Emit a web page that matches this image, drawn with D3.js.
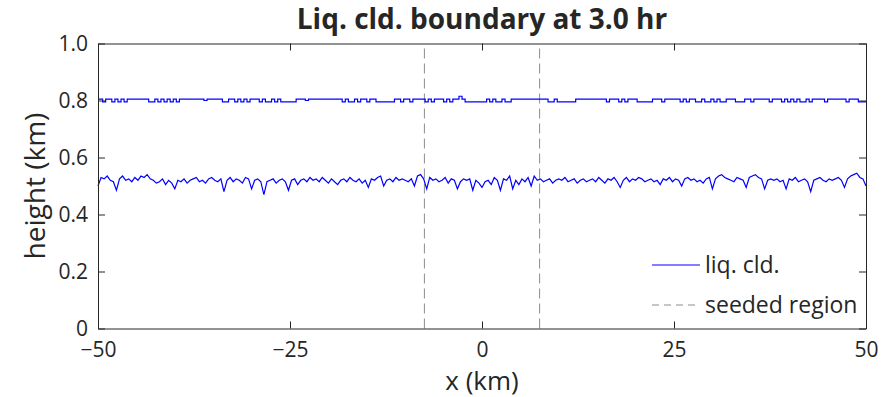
<!DOCTYPE html>
<html>
<head>
<meta charset="utf-8">
<script src="https://cdn.jsdelivr.net/npm/d3@7"></script>
<style>
  body { margin: 0; background: #fff; }
  text { font-family: "Open Sans", sans-serif; fill: #262626; }
</style>
</head>
<body>
<div id="chart"></div>
<script>
// x grid of the model output (km), one value every 0.4 km
var xStart = -50, xStep = 0.4

// cloud top (km)
var cloudTop = [
  .805,.805,.795,.805,.805,.795,.805,.795,.805,.795,
  .805,.805,.805,.805,.805,.805,.805,.795,.795,.805,
  .795,.805,.795,.805,.795,.805,.795,.805,.805,.805,
  .805,.805,.805,.805,.805,.800,.805,.805,.805,.805,
  .805,.795,.795,.805,.805,.795,.805,.795,.805,.795,
  .805,.805,.805,.795,.805,.795,.795,.805,.795,.805,
  .795,.795,.795,.795,.795,.805,.805,.805,.800,.805,
  .805,.805,.805,.805,.805,.805,.805,.805,.805,.805,
  .795,.805,.795,.795,.805,.795,.805,.805,.795,.805,
  .805,.795,.795,.795,.795,.795,.795,.805,.805,.795,
  .805,.805,.795,.805,.805,.805,.805,.795,.805,.795,
  .805,.805,.805,.795,.805,.795,.805,.805,.815,.805,
  .795,.795,.795,.795,.795,.795,.795,.805,.795,.805,
  .795,.795,.805,.795,.795,.805,.805,.805,.805,.805,
  .805,.805,.805,.805,.805,.805,.805,.795,.795,.805,
  .795,.795,.795,.795,.795,.795,.805,.805,.805,.805,
  .805,.805,.805,.805,.805,.805,.795,.805,.805,.805,
  .795,.805,.795,.805,.805,.805,.795,.795,.795,.795,
  .795,.805,.805,.805,.795,.805,.805,.805,.805,.805,
  .795,.805,.795,.805,.805,.795,.795,.805,.795,.795,
  .805,.795,.805,.795,.795,.805,.805,.805,.795,.795,
  .795,.805,.805,.795,.805,.805,.805,.805,.805,.795,
  .805,.805,.805,.795,.805,.795,.805,.795,.805,.795,
  .795,.805,.795,.805,.805,.805,.805,.795,.805,.805,
  .805,.805,.805,.805,.795,.805,.805,.805,.795,.795,
  .795
]

// cloud base (km)
var cloudBase = [
  .500,.530,.525,.535,.520,.515,.485,.525,.535,.520,
  .525,.515,.530,.520,.535,.530,.540,.525,.520,.510,
  .515,.525,.505,.520,.510,.490,.520,.515,.525,.510,
  .520,.525,.530,.515,.520,.510,.525,.530,.520,.515,
  .525,.480,.520,.530,.515,.525,.520,.510,.530,.525,
  .490,.520,.525,.515,.470,.515,.520,.525,.510,.520,
  .525,.515,.485,.520,.525,.505,.520,.525,.515,.530,
  .520,.525,.515,.530,.520,.510,.525,.515,.505,.520,
  .525,.515,.530,.520,.515,.525,.510,.520,.495,.525,
  .520,.530,.535,.500,.520,.525,.515,.530,.520,.525,
  .520,.515,.525,.500,.535,.540,.525,.490,.530,.520,
  .525,.515,.520,.530,.510,.525,.520,.490,.515,.525,
  .520,.525,.485,.520,.510,.495,.515,.520,.505,.530,
  .520,.485,.525,.520,.535,.490,.520,.505,.525,.515,
  .530,.500,.535,.520,.525,.515,.520,.525,.510,.520,
  .525,.520,.530,.515,.520,.525,.510,.520,.525,.515,
  .520,.525,.515,.530,.520,.510,.525,.520,.530,.515,
  .495,.520,.530,.515,.525,.520,.530,.525,.515,.520,
  .525,.515,.520,.505,.525,.520,.530,.515,.525,.520,
  .500,.525,.530,.520,.525,.515,.520,.510,.525,.530,
  .490,.525,.535,.540,.530,.525,.520,.515,.530,.525,
  .520,.495,.530,.535,.540,.530,.525,.490,.520,.525,
  .520,.525,.515,.520,.490,.525,.520,.530,.515,.520,
  .525,.515,.480,.520,.525,.530,.520,.515,.525,.520,
  .525,.530,.520,.495,.525,.535,.540,.545,.530,.525,
  .500
]

var seeded = [-7.5, 7.5]
var xTicks = [-50, -25, 0, 25, 50]
var yTicks = [0, 0.2, 0.4, 0.6, 0.8, 1.0]

var width = 893, height = 397
var margin = {top: 43.5, right: 27, bottom: 68.5, left: 98}

var svg = d3.select("#chart")
  .append("svg")
  .attr("width", width)
  .attr("height", height)

var xScale = d3.scaleLinear()
  .domain([-50, 50])
  .range([margin.left, width - margin.right])

var yScale = d3.scaleLinear()
  .domain([0, 1])
  .range([height - margin.bottom, margin.top])

// seeded region boundaries
svg.selectAll("seed")
  .data(seeded)
  .enter()
  .append("line")
  .attr("x1", d => xScale(d))
  .attr("x2", d => xScale(d))
  .attr("y1", yScale(0))
  .attr("y2", yScale(1))
  .style("stroke", "#8c8c8c")
  .style("stroke-width", 1)
  .style("stroke-dasharray", "10,5")

var topLine = d3.line()
  .x((d, i) => xScale(xStart + i * xStep))
  .y(d => yScale(d))
  .curve(d3.curveStep)

var baseLine = d3.line()
  .x((d, i) => xScale(xStart + i * xStep))
  .y(d => yScale(d))

svg.append("path")
  .datum(cloudTop)
  .attr("d", topLine)
  .style("fill", "none")
  .style("stroke", "#0000ff")
  .style("stroke-width", 1.2)

svg.append("path")
  .datum(cloudBase)
  .attr("d", baseLine)
  .style("fill", "none")
  .style("stroke", "#0000ff")
  .style("stroke-width", 1.2)

// axes, ticks pointing inward, box all round
var xAxis = d3.axisBottom(xScale).tickValues(xTicks).tickSizeInner(-7).tickSizeOuter(0)
  .tickFormat(d => d < 0 ? "\u2212" + Math.abs(d) : d).tickPadding(14)
var xAxisTop = d3.axisTop(xScale).tickValues(xTicks).tickSizeInner(-7).tickSizeOuter(0).tickFormat("")
var yAxis = d3.axisLeft(yScale).tickValues(yTicks).tickSizeInner(-7).tickSizeOuter(0)
  .tickFormat(d => d === 0 ? "0" : d3.format(".1f")(d)).tickPadding(10)
var yAxisRight = d3.axisRight(yScale).tickValues(yTicks).tickSizeInner(-7).tickSizeOuter(0).tickFormat("")

svg.append("g")
  .attr("transform", `translate(0,${yScale(0)})`)
  .call(xAxis)
svg.append("g")
  .attr("transform", `translate(0,${yScale(1)})`)
  .call(xAxisTop)
svg.append("g")
  .attr("transform", `translate(${xScale(-50)},0)`)
  .call(yAxis)
svg.append("g")
  .attr("transform", `translate(${xScale(50)},0)`)
  .call(yAxisRight)

svg.selectAll(".domain, .tick line")
  .style("stroke", "#262626")
  .style("stroke-width", 1)

svg.selectAll(".tick text")
  .style("font-size", "21px")
  .style("font-family", "Open Sans, sans-serif")
  .style("fill", "#262626")

// title and axis labels
svg.append("text")
  .attr("x", (xScale(-50) + xScale(50)) / 2)
  .attr("y", 29)
  .attr("text-anchor", "middle")
  .style("font-size", "28px")
  .style("font-weight", "bold")
  .text("Liq. cld. boundary at 3.0 hr")

svg.append("text")
  .attr("x", (xScale(-50) + xScale(50)) / 2)
  .attr("y", 390)
  .attr("text-anchor", "middle")
  .style("font-size", "26px")
  .text("x (km)")

svg.append("text")
  .attr("transform", `translate(45,${yScale(0.5)}) rotate(-90)`)
  .attr("text-anchor", "middle")
  .style("font-size", "28px")
  .text("height (km)")

// legend
var legend = svg.append("g")
legend.append("line")
  .attr("x1", 652).attr("x2", 700)
  .attr("y1", 265).attr("y2", 265)
  .style("stroke", "#0000ff")
  .style("stroke-width", 1.2)
legend.append("text")
  .attr("x", 705).attr("y", 273)
  .style("font-size", "23px")
  .text("liq. cld.")
legend.append("line")
  .attr("x1", 652).attr("x2", 700)
  .attr("y1", 305).attr("y2", 305)
  .style("stroke", "#8c8c8c")
  .style("stroke-width", 1)
  .style("stroke-dasharray", "7,5")
legend.append("text")
  .attr("x", 705).attr("y", 313)
  .style("font-size", "23px")
  .text("seeded region")
</script>
</body>
</html>
